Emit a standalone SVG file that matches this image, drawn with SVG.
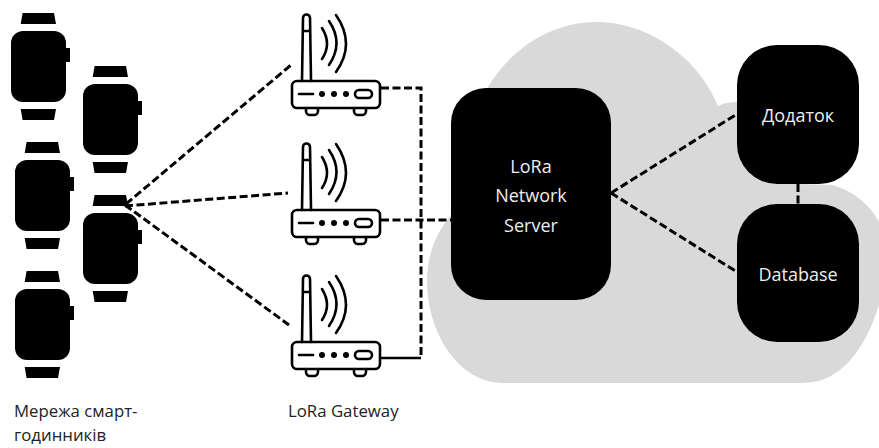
<svg xmlns="http://www.w3.org/2000/svg" width="879" height="448" viewBox="0 0 879 448">
<style>
text{font-family:"Open Sans","Noto Sans",sans-serif}
.lb{fill:#222;font-size:16.8px}
.in{fill:#eee;text-anchor:middle;font-size:18px}
.box{fill:#000}
.c{fill:none;stroke:#000;stroke-width:3;stroke-dasharray:8 3.5}
.s{fill:none;stroke:#000;stroke-width:2.6}
.r{fill:none;stroke:#000;stroke-width:2.6;stroke-linecap:round;stroke-linejoin:round}
</style>
<defs>
<g id="watch">
<rect x="0" y="0" width="55" height="71" rx="12"/>
<rect x="55" y="17" width="4" height="14"/>
<path d="M11.6 -18H43L45 -7H9.7Z"/>
<path d="M9.7 78H45L43 89H11.6Z"/>
</g>
<g id="router">
<rect x="292" y="81" width="88" height="27" rx="5" class="r"/>
<path class="r" d="M302 81L303 18a3.5 3.5 0 0 1 7 0L311 81M303 31H310"/>
<path class="r" d="M306 108v3a4 4 0 0 0 4 4h4a4 4 0 0 0 4-4v-3M354 108v3a4 4 0 0 0 4 4h4a4 4 0 0 0 4-4v-3"/>
<path class="r" d="M299 94H313"/>
<circle cx="322" cy="94" r="3"/><circle cx="334" cy="94" r="3"/><circle cx="346" cy="94" r="3"/>
<rect x="355" y="90" width="17" height="8" rx="4" class="r"/>
<path class="r" d="M322 28Q332 44 322 59M329 21Q344 43 329 65M336 15Q356 44 336 72"/>
</g>
</defs>
<path id="cloud" fill="#d9d9d9" d="M503 383C460 383 427 335 427 280C427 250 440 225 460 205L470 150C470 130 478 105 488 87C510 50 550 22 597 22C650 22 700 60 718 106C724 103 731 102 737 102L800 184L833 185C855 192 870 205 879 222V305C865 350 840 383 803 383Z"/>
<g id="connectors">
<path class="c" d="M126 204L291 65"/>
<path class="c" d="M125 206L288 193"/>
<path class="c" d="M125 205L289 325"/>
<path class="c" d="M381 88H421V358"/>
<path class="s" d="M381 358H421"/>
<path class="c" d="M381 220H451"/>
<path class="c" d="M611 193L737 114"/>
<path class="c" d="M611 193L737 272"/>
<path class="c" d="M798 184V204"/>
</g>
<g id="watch1"><use href="#watch" x="11" y="31"/></g>
<g id="watch2"><use href="#watch" x="83" y="84"/></g>
<g id="watch3"><use href="#watch" x="15" y="160"/></g>
<g id="watch4"><use href="#watch" x="83" y="213"/></g>
<g id="watch5"><use href="#watch" x="15" y="289"/></g>
<g id="gateway1"><use href="#router"/></g>
<g id="gateway2"><use href="#router" y="129"/></g>
<g id="gateway3"><use href="#router" y="261"/></g>
<g id="server"><rect class="box" x="451" y="88" width="160" height="212" rx="35"/>
<text class="in" x="531" y="173">LoRa</text><text class="in" x="531" y="202">Network</text><text class="in" x="531" y="232">Server</text></g>
<g id="app"><rect class="box" x="737" y="45" width="122" height="139" rx="40"/><text class="in" x="798" y="122">Додаток</text></g>
<g id="db"><rect class="box" x="737" y="204" width="122" height="138" rx="40"/><text class="in" x="798" y="281">Database</text></g>
<text class="lb" x="14" y="417">Мережа смарт-</text>
<text class="lb" x="14" y="441">годинників</text>
<text class="lb" x="288" y="417">LoRa Gateway</text>
</svg>
